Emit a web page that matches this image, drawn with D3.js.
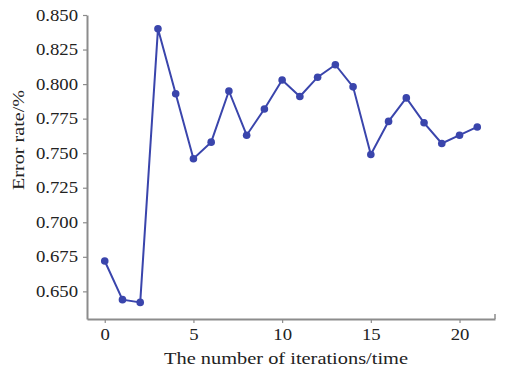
<!DOCTYPE html>
<html><head><meta charset="utf-8">
<script src="https://cdn.jsdelivr.net/npm/d3@7"></script>
<style>body{margin:0;background:#fff;}svg{display:block;}</style>
</head><body>
<script>
const iterations = [0,1,2,3,4,5,6,7,8,9,10,11,12,13,14,15,16,17,18,19,20,21];
const errorRate = [0.672,0.644,0.642,0.840,0.793,0.746,0.758,0.795,0.763,0.782,0.803,0.791,0.805,0.814,0.798,0.749,0.773,0.790,0.772,0.757,0.763,0.769];
const xTicks = [0,5,10,15,20];
const yTicks = [0.650,0.675,0.700,0.725,0.750,0.775,0.800,0.825,0.850];
const xTitle = "The number of iterations/time";
const yTitle = "Error rate/%";

(function(){
const W = 506, H = 372;
const mLeft = 87, mRight = 495, mTop = 15, mBottom = 319;
const svg = d3.select("body").append("svg").attr("width", W).attr("height", H);
const x = d3.scaleLinear().domain([-1, 22]).range([mLeft, mRight]);
const y = d3.scaleLinear().domain([0.63, 0.85]).range([mBottom, mTop]);
const font = "'Liberation Serif', 'Times New Roman', 'DejaVu Serif', serif";
const axisColor = "#8c8c8c";

const gx = svg.append("g").attr("transform", `translate(0,${mBottom})`)
  .call(d3.axisBottom(x).tickValues(xTicks).tickFormat(d3.format("d")).tickSize(4).tickSizeOuter(0));
const gy = svg.append("g").attr("transform", `translate(${mLeft},0)`)
  .call(d3.axisLeft(y).tickValues(yTicks).tickFormat(d3.format(".3f")).tickSize(4).tickSizeOuter(0));
[gx, gy].forEach(g => {
  g.attr("font-family", null).attr("font-size", null);
  g.select(".domain").attr("stroke", axisColor).attr("stroke-width", 2);
  g.selectAll(".tick line").attr("stroke", axisColor).attr("stroke-width", 1.2);
  g.selectAll(".tick text").attr("fill", "#222").attr("font-family", font).attr("font-size", 16)
    .attr("transform", "scale(1.17,1)");
});
gx.selectAll(".tick text").attr("dy", "0.9em");
gy.selectAll(".tick text").attr("x", -9 / 1.17);
svg.append("line").attr("x1", mRight).attr("x2", mRight).attr("y1", mBottom).attr("y2", mBottom - 5)
  .attr("stroke", axisColor).attr("stroke-width", 1.5);

svg.append("text").attr("transform", "translate(286,364) scale(1.2,1)").attr("text-anchor", "middle")
  .attr("font-family", font).attr("font-size", 17).attr("fill", "#222").text(xTitle);
svg.append("text").attr("transform", "translate(24,140) rotate(-90) scale(1.26,1)").attr("text-anchor", "middle")
  .attr("font-family", font).attr("font-size", 16).attr("fill", "#222").text(yTitle);

const color = "#3a45ac";
const line = d3.line().x((d,i) => x(iterations[i])).y(d => y(d));
svg.append("path").datum(errorRate).attr("d", line).attr("fill", "none")
  .attr("stroke", color).attr("stroke-width", 2);
svg.selectAll("circle.pt").data(errorRate).enter().append("circle").attr("class", "pt")
  .attr("cx", (d,i) => x(iterations[i])).attr("cy", d => y(d)).attr("r", 3.8).attr("fill", color);
})();
</script>
</body></html>
